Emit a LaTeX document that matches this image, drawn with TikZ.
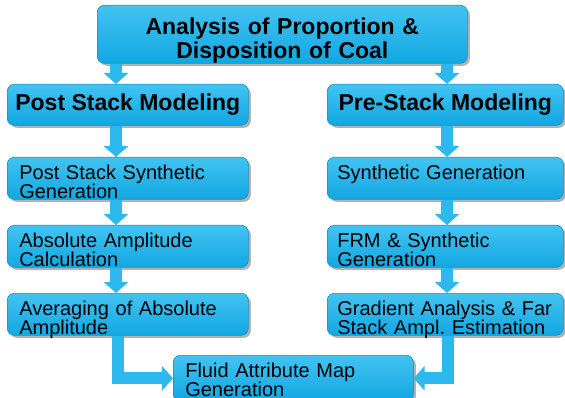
\documentclass[tikz,border=0pt]{standalone}
\usepackage{fontspec}
\setmainfont{Liberation Sans}
\usetikzlibrary{arrows.meta,shadows}
\definecolor{boxtop}{HTML}{42C3F2}
\definecolor{boxbot}{HTML}{12A7E2}
\definecolor{boxedge}{HTML}{1093C8}
\definecolor{arrowcol}{HTML}{2DB9EE}
\frenchspacing
\begin{document}
\begin{tikzpicture}[x=1pt,y=-1pt,
  box/.style={draw=boxedge, line width=0.6pt, rounded corners=7pt,
    top color=boxtop, bottom color=boxbot,
    drop shadow={shadow xshift=2.5pt, shadow yshift=-2.5pt, fill=black, opacity=0.3},
    anchor=north west, inner sep=0pt},
  headbox/.style={box, font=\fontsize{23}{24}\selectfont\bfseries, align=center},
  lbox/.style={box, font=\fontsize{20}{19}\selectfont, align=left,
    inner xsep=12pt, text width=217pt, minimum width=241pt, minimum height=42pt,
    text height=22pt, text depth=20pt},
  rbox/.style={box, font=\fontsize{20}{19}\selectfont, align=left,
    inner xsep=10pt, text width=216pt, minimum width=236pt, minimum height=42pt,
    text height=22pt, text depth=20pt},
  barrow/.style={draw=arrowcol, line width=12pt,
    -{Triangle[width=24pt,length=11pt]}, line join=miter}
]
\useasboundingbox (0,0) rectangle (565,398);
\clip (0,0) rectangle (565,398);
\fill[white] (0,0) rectangle (565,398);

\node[headbox, text width=360pt, minimum width=370pt, minimum height=58pt,
  text height=29pt, text depth=29pt] (top) at (97,5)
  {Analysis of Proportion \&\\Disposition of Coal};
\node[headbox, minimum width=241pt, minimum height=41pt] (post) at (7,84)
  {Post Stack Modeling};
\node[headbox, minimum width=236pt, minimum height=41pt] (pre) at (327,84)
  {Pre-Stack Modeling};

\node[lbox] (l1) at (7,157) {Post Stack Synthetic\\Generation};
\node[lbox] (l2) at (7,225) {Absolute Amplitude\\Calculation};
\node[lbox] (l3) at (7,293) {Averaging of Absolute\\Amplitude};

\node[rbox] (r1) at (327,157) {Synthetic Generation};
\node[rbox] (r2) at (327,225) {FRM \& Synthetic\\Generation};
\node[rbox] (r3) at (327,293) {Gradient Analysis \& Far\\Stack Ampl. Estimation};

\node[lbox, minimum width=240pt, text width=216pt, minimum height=46pt,
  text depth=24pt] (fluid) at (173,355)
  {Fluid Attribute Map\\Generation};

\draw[barrow] (top.south -| 116,0) -- (post.north -| 116,0);
\draw[barrow] (top.south -| 447,0) -- (pre.north -| 447,0);
\draw[barrow] (post.south -| 116,0) -- (l1.north -| 116,0);
\draw[barrow] (l1.south -| 116,0) -- (l2.north -| 116,0);
\draw[barrow] (l2.south -| 116,0) -- (l3.north -| 116,0);
\draw[barrow] (pre.south -| 447,0) -- (r1.north -| 447,0);
\draw[barrow] (r1.south -| 447,0) -- (r2.north -| 447,0);
\draw[barrow] (r2.south -| 447,0) -- (r3.north -| 447,0);
\draw[barrow] (l3.south -| 118,0) |- (fluid.west);
\draw[barrow] (r3.south -| 448,0) |- (fluid.east);
\end{tikzpicture}
\end{document}
